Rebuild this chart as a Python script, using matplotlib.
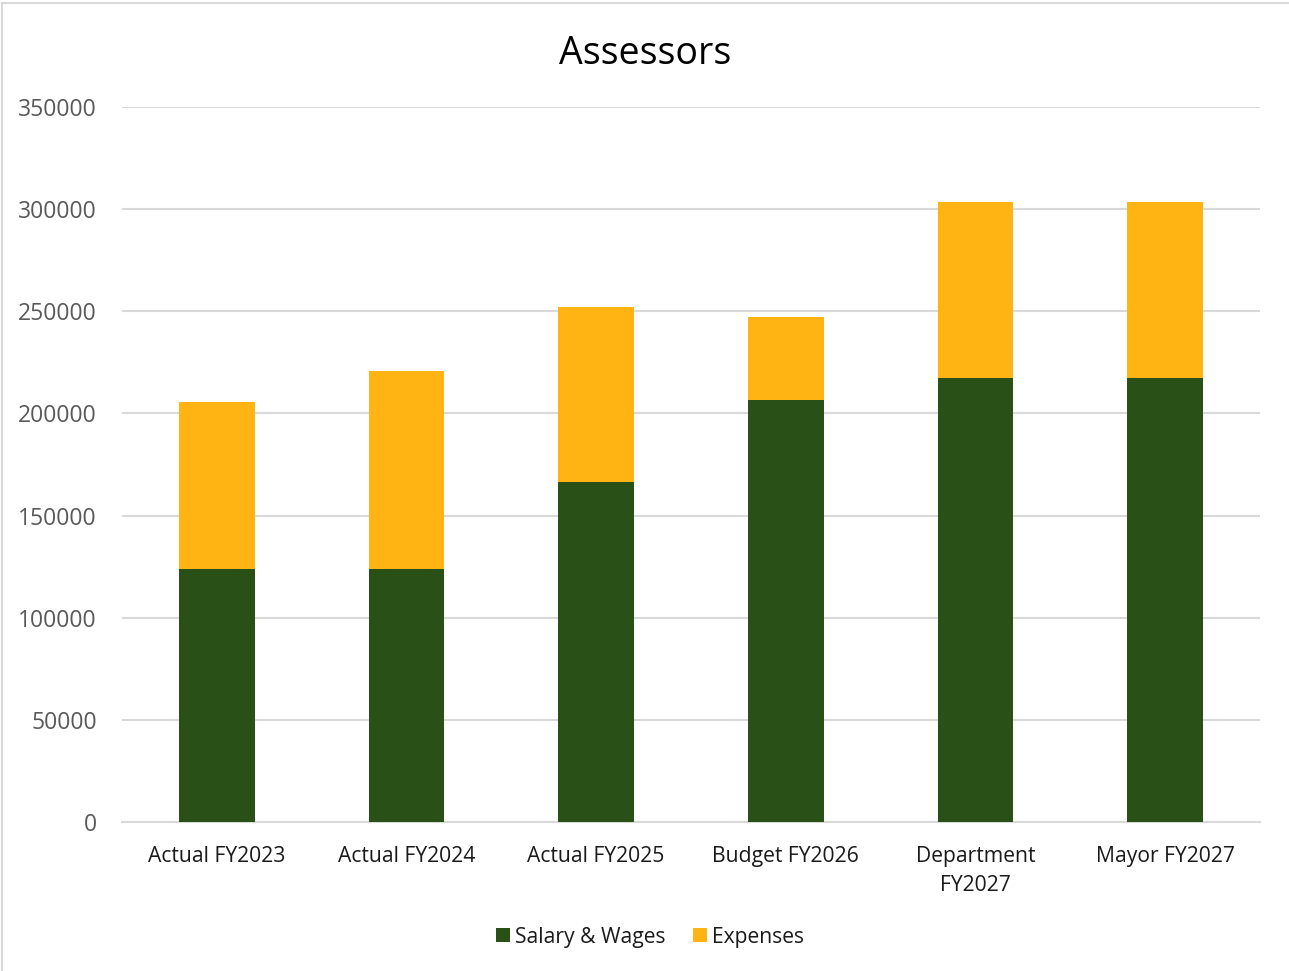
import matplotlib
matplotlib.use("Agg")
import matplotlib.pyplot as plt
from matplotlib.lines import Line2D
import numpy as np

categories = ["Actual FY2023", "Actual FY2024", "Actual FY2025", "Budget FY2026",
              "Department\nFY2027", "Mayor FY2027"]
salary = [123700, 124000, 166500, 206400, 217200, 217200]
expenses = [81900, 96700, 85800, 41000, 86200, 86200]
yticks = [0, 50000, 100000, 150000, 200000, 250000, 300000, 350000]

plt.rcParams['font.family'] = ['Open Sans', 'DejaVu Sans']

W, H = 1289, 971
fig = plt.figure(figsize=(W / 100, H / 100), dpi=100)
ax = fig.add_axes([122 / W, 1 - 822 / H, (1260 - 122) / W, (822 - 107) / H])

x = np.arange(len(categories))
green = "#295117"
gold = "#FFB414"
ax.bar(x, salary, width=0.4, color=green, label="Salary & Wages", zorder=3)
ax.bar(x, expenses, width=0.4, bottom=salary, color=gold, label="Expenses", zorder=3)

ax.set_xlim(-0.5, len(categories) - 0.5)
ax.set_ylim(0, 350000)
ax.set_yticks(yticks)
ax.set_yticklabels([str(v) for v in yticks])
ax.set_xticks(x)
ax.set_xticklabels(categories, fontsize=15.2, color="#1a1a1a", linespacing=1.55)
ax.tick_params(axis='y', labelsize=16.5, labelcolor="#595959", length=0, pad=18)
ax.tick_params(axis='x', length=0, pad=17)
ax.grid(axis='y', color="#d9d9d9", linewidth=1.5, zorder=0)
for s in ["top", "right", "left"]:
    ax.spines[s].set_visible(False)
ax.spines["bottom"].set_color("#d9d9d9")
ax.spines["bottom"].set_linewidth(1.5)

fig.text(645 / W, 1 - 54 / H, "Assessors", ha="center", va="center", fontsize=27, color="#000000")

handles, labels = ax.get_legend_handles_labels()
leg = fig.legend(handles, labels, loc="center", bbox_to_anchor=(650 / W, 1 - 937 / H),
                 ncol=2, frameon=False, fontsize=15.2, handlelength=0.65, handleheight=0.65,
                 handletextpad=0.25, columnspacing=1.3)
for t in leg.get_texts():
    t.set_color("#1a1a1a")

fig.lines.append(Line2D([1.5 / W, 1.5 / W], [0, 1 - 3 / H], transform=fig.transFigure,
                        color="#d9d9d9", linewidth=1.5))
fig.lines.append(Line2D([1.5 / W, 1], [1 - 3 / H, 1 - 3 / H], transform=fig.transFigure,
                        color="#d9d9d9", linewidth=1.5))

fig.savefig("out.png", dpi=100)
